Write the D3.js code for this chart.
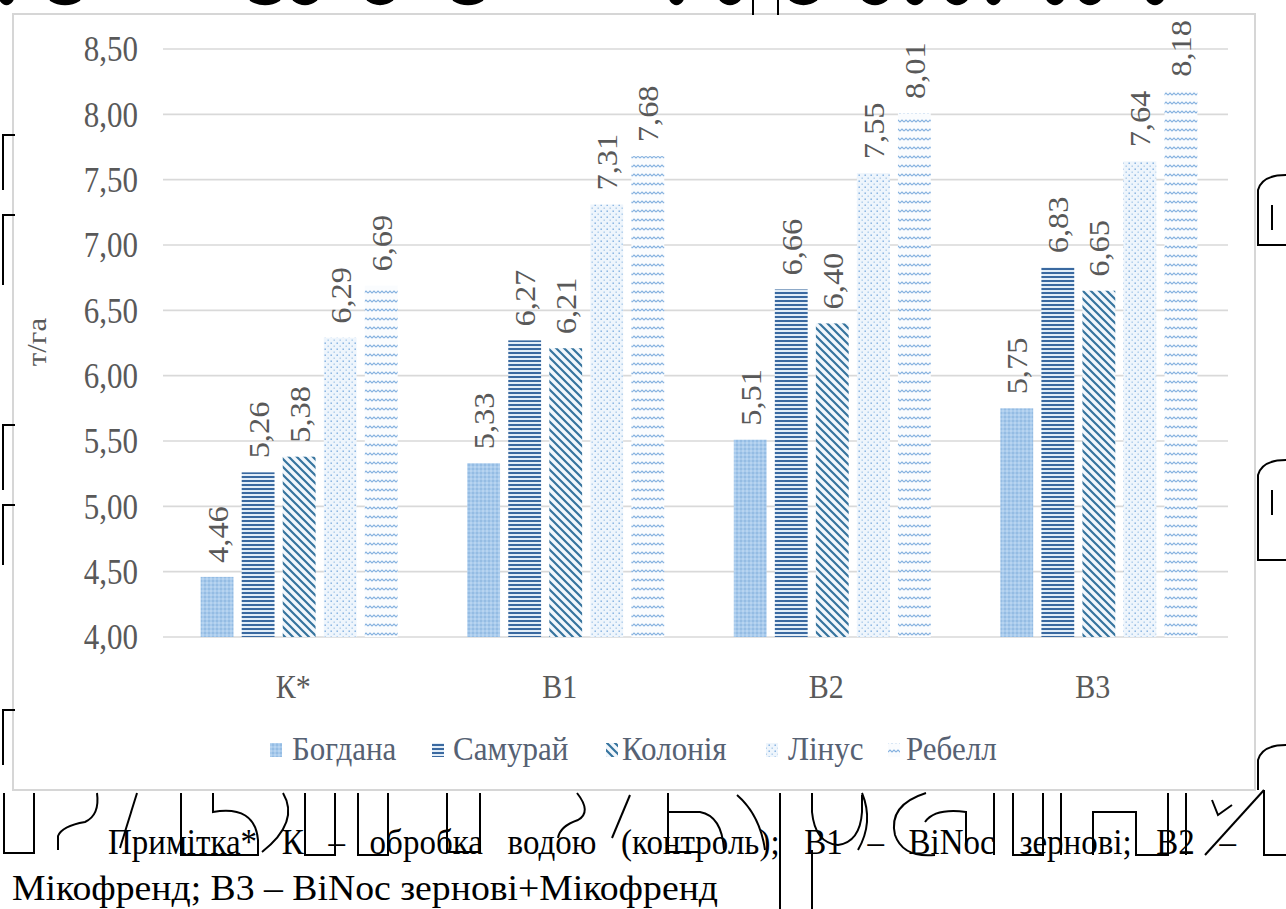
<!DOCTYPE html>
<html>
<head>
<meta charset="utf-8">
<style>
body { margin: 0; background: #fff; }
svg { display: block; }
</style>
</head>
<body>
<svg id="chart" width="1286" height="909"></svg>
<script src="https://d3js.org/d3.v7.min.js"></script>
<script>
// data
let categories = ["К*", "В1", "В2", "В3"];
let series = ["Богдана", "Самурай", "Колонія", "Лінус", "Ребелл"];
let bogdana = [4.46, 5.33, 5.51, 5.75];
let samurai = [5.26, 6.27, 6.66, 6.83];
let koloniya = [5.38, 6.21, 6.40, 6.65];
let linus = [6.29, 7.31, 7.55, 7.64];
let rebell = [6.69, 7.68, 8.01, 8.18];
let yTicks = [4.0, 4.5, 5.0, 5.5, 6.0, 6.5, 7.0, 7.5, 8.0, 8.5];
let noteLine1 = "Примітка* К – обробка водою (контроль); В1 – BiNoc зернові; В2 –";
let noteLine2 = "Мікофренд; В3 – BiNoc зернові+Мікофренд";

let serifFont = "'Liberation Serif', 'DejaVu Serif', serif";
let grey = "#595959";

let values = [bogdana, samurai, koloniya, linus, rebell];
let table = [];
categories.forEach((c, i) => {
    series.forEach((s, j) => {
        table.push({cat: c, series: s, idx: j, value: values[j][i]});
    });
});

let svg = d3.select("#chart").attr("font-family", serifFont);
let defs = svg.append("defs");

// patterns
let p0 = defs.append("pattern").attr("id", "pat0").attr("patternUnits", "userSpaceOnUse")
    .attr("width", 4).attr("height", 4);
p0.append("rect").attr("width", 4).attr("height", 4).attr("fill", "#a7caec");
p0.append("rect").attr("width", 2).attr("height", 2).attr("fill", "#95bce3");
p0.append("rect").attr("x", 2).attr("y", 2).attr("width", 2).attr("height", 2).attr("fill", "#b8d4f0");

let p1 = defs.append("pattern").attr("id", "pat1").attr("patternUnits", "userSpaceOnUse")
    .attr("width", 4).attr("height", 4);
p1.append("rect").attr("width", 4).attr("height", 4).attr("fill", "#e3eef8");
p1.append("rect").attr("width", 4).attr("height", 2).attr("fill", "#3a69a0");

let p2 = defs.append("pattern").attr("id", "pat2").attr("patternUnits", "userSpaceOnUse")
    .attr("width", 8).attr("height", 8);
p2.append("rect").attr("width", 8).attr("height", 8).attr("fill", "#f2f7fc");
p2.append("path").attr("d", "M-2,-2 L10,10 M-2,6 L2,10 M6,-2 L10,2")
    .attr("stroke", "#36749e").attr("stroke-width", 2.2);

let p3 = defs.append("pattern").attr("id", "pat3").attr("patternUnits", "userSpaceOnUse")
    .attr("width", 6).attr("height", 6);
p3.append("rect").attr("width", 6).attr("height", 6).attr("fill", "#eef5fc");
p3.append("rect").attr("x", 0.5).attr("y", 0.5).attr("width", 1.4).attr("height", 1.4).attr("fill", "#78aadf");
p3.append("rect").attr("x", 3.5).attr("y", 3.5).attr("width", 1.4).attr("height", 1.4).attr("fill", "#a8c9ea");

let p4 = defs.append("pattern").attr("id", "pat4").attr("patternUnits", "userSpaceOnUse")
    .attr("width", 8).attr("height", 9);
p4.append("rect").attr("width", 8).attr("height", 9).attr("fill", "#fafcfe");
p4.append("path").attr("d", "M0,5 L2,3 L4,5 L6,3 L8,5")
    .attr("stroke", "#86b2e0").attr("stroke-width", 1.1).attr("fill", "none");

// panel
svg.append("rect")
    .attr("x", 13).attr("y", 14).attr("width", 1242).attr("height", 776)
    .attr("fill", "#fff").attr("stroke", "#d6d6d6").attr("stroke-width", 2);

// scales
let x0 = d3.scaleBand()
    .domain(categories)
    .range([166, 1232])
    .paddingInner(0.261)
    .paddingOuter(0.13);
let x1 = d3.scaleBand()
    .domain(series)
    .range([0, x0.bandwidth()])
    .paddingInner(0.2);
let y = d3.scaleLinear()
    .domain([4, 8.5])
    .range([637, 49]);

let fmt = v => d3.format(".2f")(v).replace(".", ",");

// the scanned text looks a bit taller than wide
let stretch = (x, yy, k) => "translate(" + x + "," + yy + ") scale(1," + k + ")";

// gridlines
svg.append("g")
    .selectAll("line")
    .data(yTicks)
    .join("line")
    .attr("x1", 163).attr("x2", 1228)
    .attr("y1", d => y(d)).attr("y2", d => y(d))
    .attr("stroke", "#d9d9d9").attr("stroke-width", 1.6);

// y axis labels
svg.append("g")
    .selectAll("text")
    .data(yTicks)
    .join("text")
    .attr("transform", d => stretch(138, y(d), 1.15))
    .attr("dy", "0.35em")
    .attr("text-anchor", "end")
    .attr("fill", grey)
    .attr("font-size", 31)
    .text(d => fmt(d));

svg.append("text")
    .attr("transform", "translate(46,342) scale(1,1.1) rotate(-90)")
    .attr("text-anchor", "middle")
    .attr("fill", grey)
    .attr("font-size", 28)
    .text("т/га");

// bars
svg.append("g")
    .selectAll("rect")
    .data(table)
    .join("rect")
    .attr("x", d => x0(d.cat) + x1(d.series))
    .attr("y", d => y(d.value))
    .attr("width", x1.bandwidth())
    .attr("height", d => y(4) - y(d.value))
    .attr("fill", d => "url(#pat" + d.idx + ")");

// value labels
svg.append("g")
    .selectAll("text")
    .data(table)
    .join("text")
    .attr("transform", d => stretch(x0(d.cat) + x1(d.series) + x1.bandwidth() / 2, y(d.value) - 14, 1.08) + " rotate(-90)")
    .attr("dy", "0.35em")
    .attr("fill", grey)
    .attr("font-size", 30)
    .text(d => fmt(d.value));

// category labels
svg.append("g")
    .selectAll("text")
    .data(categories)
    .join("text")
    .attr("transform", d => stretch(x0(d) + x0.bandwidth() / 2 - 6, 698, 1.1))
    .attr("text-anchor", "middle")
    .attr("fill", grey)
    .attr("font-size", 30)
    .text(d => d);

// legend
let legendX = [270, 432, 606, 766, 888];
let legendText = [292, 453, 622, 788, 906];
let legend = svg.append("g");
series.forEach((s, j) => {
    legend.append("rect").attr("x", legendX[j]).attr("y", 743).attr("width", 12).attr("height", 14)
        .attr("fill", "url(#pat" + j + ")");
    legend.append("text")
        .attr("transform", stretch(legendText[j], 760, 1.08))
        .attr("fill", "#566173")
        .attr("font-size", 31)
        .text(s);
});

// note under the chart (first line justified)
let words = noteLine1.split(" ");
let nt = svg.append("g");
let wEls = words.map(w => nt.append("text")
    .attr("fill", "#000").attr("font-size", 33).text(w));
let widths = wEls.map(e => e.node().getComputedTextLength());
let total = d3.sum(widths);
let left = 108, right = 1236;
let gap = (right - left - total) / (words.length - 1);
let cx = left;
wEls.forEach((e, i) => { e.attr("transform", stretch(cx, 854, 1.1)); cx += widths[i] + gap; });

svg.append("text")
    .attr("transform", stretch(12, 900, 1.1))
    .attr("fill", "#000").attr("font-size", 33)
    .attr("textLength", 706).attr("lengthAdjust", "spacingAndGlyphs")
    .text(noteLine2);

// scan artifacts: outlines of a bigger text lying behind the chart
let artifacts = [
    // left and right edges
    "M15,135 L3,135 L3,190",
    "M15,215 L3,215 L3,285",
    "M15,425 L3,425 L3,490",
    "M15,505 L3,505 L3,565",
    "M15,710 L3,710 L3,765",
    "M1286,175 Q1262,175 1258,190 L1258,245 L1286,245",
    "M1272,205 L1272,230",
    "M1286,460 Q1262,460 1258,475 L1258,560 L1286,560",
    "M1272,490 L1272,515",
    "M1286,745 Q1262,745 1258,760 L1258,790",
    // top edge
    "M753,0 L753,15", "M778,0 L778,15",
    // bottom band
    "M4,793 L4,853 L34,853 L34,793",
    "M97,793 Q100,815 85,822 Q62,826 58,836 L58,850",
    "M137,793 L120,848",
    "M181,793 L181,855 L258,855 L258,840 Q255,805 213,812 L213,793",
    "M283,793 Q300,822 262,852",
    "M305,793 L305,855 L335,855 L335,793",
    "M358,793 L358,855 L388,855 L388,793",
    "M447,793 L447,852 L480,852 L480,793",
    "M577,793 Q592,812 578,820 Q560,826 558,838",
    "M630,795 L612,838",
    "M668,793 L668,852 L700,852",
    "M668,812 L700,812 Q722,816 724,850",
    "M737,795 Q760,815 765,850",
    "M780,793 L780,909",
    "M812,793 L812,812 Q815,843 838,845 Q860,842 862,812 L862,795",
    "M812,850 L812,909",
    "M862,793 Q874,822 858,850",
    "M926,793 Q888,805 895,835 Q903,858 935,855",
    "M925,822 Q935,808 966,812 L966,845",
    "M994,793 L994,855",
    "M1013,793 L1013,855 L1043,855 L1043,793",
    "M1061,793 L1061,855",
    "M1093,855 L1093,812 L1136,812 L1136,855 L1168,855 L1168,793",
    "M1186,793 L1186,855",
    "M1212,800 L1218,815 L1232,805",
    "M1264,790 L1205,855",
    "M1264,790 L1264,855 L1286,855"
];
svg.append("g").selectAll("path").data(artifacts).join("path")
    .attr("d", d => d).attr("fill", "none").attr("stroke", "#000").attr("stroke-width", 2);

// bottoms of letter outlines cut by the top edge
let topBlobs = [[0, 13], [50, 80], [250, 280], [293, 317], [367, 393], [453, 483], [670, 683],
    [720, 740], [790, 817], [863, 887], [907, 923], [947, 967], [987, 1000], [1047, 1063],
    [1080, 1100], [1147, 1163]];
svg.append("g").selectAll("path").data(topBlobs).join("path")
    .attr("d", d => "M" + d[0] + ",0 Q" + (d[0] + d[1]) / 2 + ",9 " + d[1] + ",0")
    .attr("fill", "#000").attr("stroke", "#000").attr("stroke-width", 1.5);
</script>
</body>
</html>
